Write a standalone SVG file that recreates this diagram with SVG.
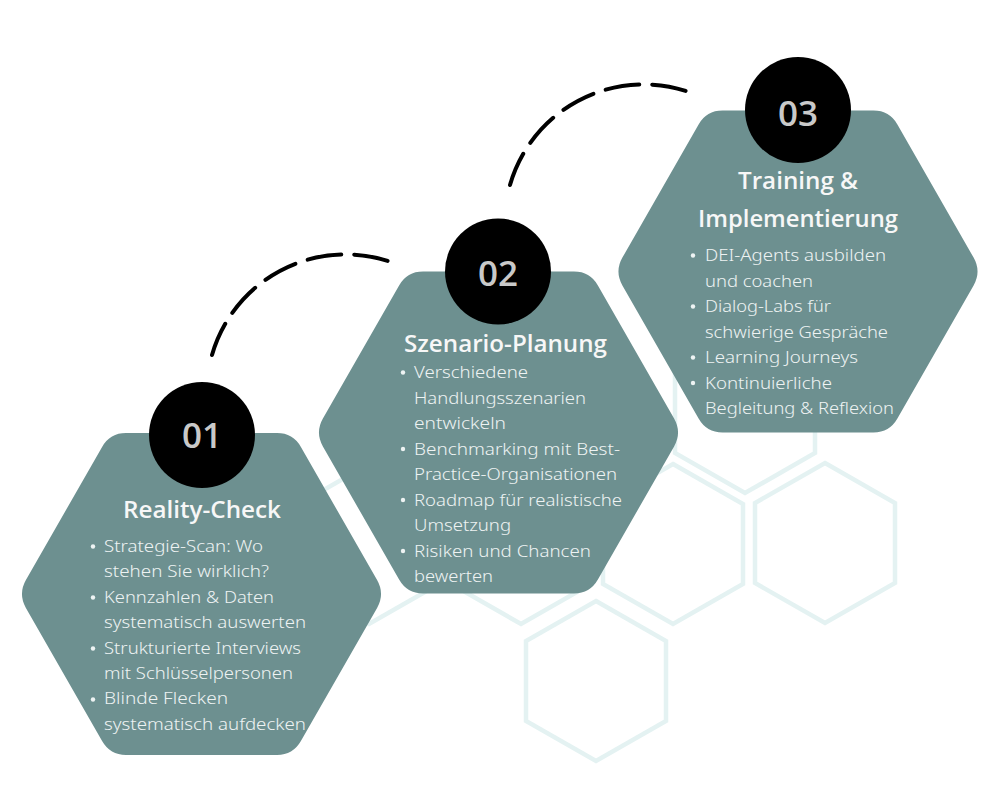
<svg xmlns="http://www.w3.org/2000/svg" xmlns:xlink="http://www.w3.org/1999/xlink" width="1000" height="800" viewBox="0 0 1000 800">
  <style>
    .bg { fill: none; stroke: #e4f2f2; stroke-width: 4.5; stroke-linejoin: miter; }
    .bg2 { fill: none; stroke: #edf6f6; stroke-width: 2; }
    .hex { fill: #6d9090; }
    .num-circle { fill: #000000; }
    .num { font-family: "Open Sans", "Noto Sans", sans-serif; font-weight: 600; font-size: 35px; fill: #c9c9c9; text-anchor: middle; }
    .title { font-family: "Open Sans", "Noto Sans", sans-serif; font-weight: 600; font-size: 24px; fill: #f7f7f7; text-anchor: middle; }
    .body { font-family: "Noto Sans", "Open Sans", sans-serif; font-weight: 300; font-size: 16px; fill: #eef3f3; }
    .dot { fill: #eef3f3; }
    .arc { fill: none; stroke: #000000; stroke-width: 4; stroke-linecap: round; stroke-dasharray: 34 13; }
  </style>
  <defs>
    <path id="bighex" d="M -75.5 -161 L 75.5 -161 Q 91.5 -161 99.4 -147.1 L 175.6 -13.9 Q 183.5 0 175.6 13.9 L 99.4 147.1 Q 91.5 161 75.5 161 L -75.5 161 Q -91.5 161 -99.4 147.1 L -175.6 13.9 Q -183.5 0 -175.6 -13.9 L -99.4 -147.1 Q -91.5 -161 -75.5 -161 Z"/>
    <path id="smallhex" d="M 0 -80 L 70 -40 L 70 40 L 0 80 L -70 40 L -70 -40 Z"/>
  </defs>

  <rect x="0" y="0" width="1000" height="800" fill="#ffffff"/>

  <g id="background-hexes">
    <use xlink:href="#smallhex" class="bg" transform="translate(745,413)"/>
    <use xlink:href="#smallhex" class="bg" transform="translate(369,544)"/>
    <use xlink:href="#smallhex" class="bg" transform="translate(521,544)"/>
    <use xlink:href="#smallhex" class="bg" transform="translate(673,544)"/>
    <use xlink:href="#smallhex" class="bg" transform="translate(825,543)"/>
    <use xlink:href="#smallhex" class="bg" transform="translate(596,681)"/>
  </g>

  <g id="connectors">
    <path class="arc" d="M 212 355 A 139 139 0 0 1 388 261"/>
    <path class="arc" d="M 510 185 A 139 139 0 0 1 686 91"/>
  </g>

  <g id="step-01">
    <use xlink:href="#bighex" class="hex" transform="translate(201.5,594)"/>
    <circle class="num-circle" cx="202" cy="435" r="53"/>
    <text class="num" x="202" y="448">01</text>
    <text class="title" x="202" y="518" textLength="158" lengthAdjust="spacingAndGlyphs">Reality-Check</text>
    <circle class="dot" cx="93" cy="546.5" r="2.2"/>
    <circle class="dot" cx="93" cy="597.5" r="2.2"/>
    <circle class="dot" cx="93" cy="648.5" r="2.2"/>
    <circle class="dot" cx="93" cy="699.5" r="2.2"/>
    <text class="body" x="104" y="552" textLength="159" lengthAdjust="spacingAndGlyphs">Strategie-Scan: Wo</text>
    <text class="body" x="104" y="577.4" textLength="165" lengthAdjust="spacingAndGlyphs">stehen Sie wirklich?</text>
    <text class="body" x="104" y="602.8" textLength="170" lengthAdjust="spacingAndGlyphs">Kennzahlen &amp; Daten</text>
    <text class="body" x="104" y="628.2" textLength="202" lengthAdjust="spacingAndGlyphs">systematisch auswerten</text>
    <text class="body" x="104" y="653.6" textLength="197" lengthAdjust="spacingAndGlyphs">Strukturierte Interviews</text>
    <text class="body" x="104" y="679" textLength="189" lengthAdjust="spacingAndGlyphs">mit Schlüsselpersonen</text>
    <text class="body" x="104" y="704.4" textLength="124" lengthAdjust="spacingAndGlyphs">Blinde Flecken</text>
    <text class="body" x="104" y="729.8" textLength="202" lengthAdjust="spacingAndGlyphs">systematisch aufdecken</text>
  </g>

  <g id="step-02">
    <use xlink:href="#bighex" class="hex" transform="translate(498.5,432.5)"/>
    <circle class="num-circle" cx="498" cy="271.5" r="53"/>
    <text class="num" x="498" y="286">02</text>
    <text class="title" x="505.5" y="352" textLength="203" lengthAdjust="spacingAndGlyphs">Szenario-Planung</text>
    <circle class="dot" cx="403" cy="372.5" r="2.2"/>
    <circle class="dot" cx="403" cy="449" r="2.2"/>
    <circle class="dot" cx="403" cy="500" r="2.2"/>
    <circle class="dot" cx="403" cy="551" r="2.2"/>
    <text class="body" x="414" y="378" textLength="114" lengthAdjust="spacingAndGlyphs">Verschiedene</text>
    <text class="body" x="414" y="403.5" textLength="172" lengthAdjust="spacingAndGlyphs">Handlungsszenarien</text>
    <text class="body" x="414" y="429" textLength="92" lengthAdjust="spacingAndGlyphs">entwickeln</text>
    <text class="body" x="414" y="454.5" textLength="206" lengthAdjust="spacingAndGlyphs">Benchmarking mit Best-</text>
    <text class="body" x="414" y="480" textLength="203" lengthAdjust="spacingAndGlyphs">Practice-Organisationen</text>
    <text class="body" x="414" y="505.5" textLength="208" lengthAdjust="spacingAndGlyphs">Roadmap für realistische</text>
    <text class="body" x="414" y="531" textLength="97" lengthAdjust="spacingAndGlyphs">Umsetzung</text>
    <text class="body" x="414" y="556.5" textLength="177" lengthAdjust="spacingAndGlyphs">Risiken und Chancen</text>
    <text class="body" x="414" y="582" textLength="79" lengthAdjust="spacingAndGlyphs">bewerten</text>
  </g>

  <g id="step-03">
    <use xlink:href="#bighex" class="hex" transform="translate(798,271.5)"/>
    <circle class="num-circle" cx="798" cy="110" r="53"/>
    <text class="num" x="798" y="126">03</text>
    <text class="title" x="798" y="189" textLength="120" lengthAdjust="spacingAndGlyphs">Training &amp;</text>
    <text class="title" x="798" y="227" textLength="200" lengthAdjust="spacingAndGlyphs">Implementierung</text>
    <circle class="dot" cx="693" cy="255.5" r="2.2"/>
    <circle class="dot" cx="693" cy="306.5" r="2.2"/>
    <circle class="dot" cx="693" cy="357.5" r="2.2"/>
    <circle class="dot" cx="693" cy="383" r="2.2"/>
    <text class="body" x="705" y="261" textLength="181" lengthAdjust="spacingAndGlyphs">DEI-Agents ausbilden</text>
    <text class="body" x="705" y="286.5" textLength="108" lengthAdjust="spacingAndGlyphs">und coachen</text>
    <text class="body" x="705" y="312" textLength="126" lengthAdjust="spacingAndGlyphs">Dialog-Labs für</text>
    <text class="body" x="705" y="337.5" textLength="183" lengthAdjust="spacingAndGlyphs">schwierige Gespräche</text>
    <text class="body" x="705" y="363" textLength="153" lengthAdjust="spacingAndGlyphs">Learning Journeys</text>
    <text class="body" x="705" y="388.5" textLength="127" lengthAdjust="spacingAndGlyphs">Kontinuierliche</text>
    <text class="body" x="705" y="414" textLength="189" lengthAdjust="spacingAndGlyphs">Begleitung &amp; Reflexion</text>
  </g>
</svg>
